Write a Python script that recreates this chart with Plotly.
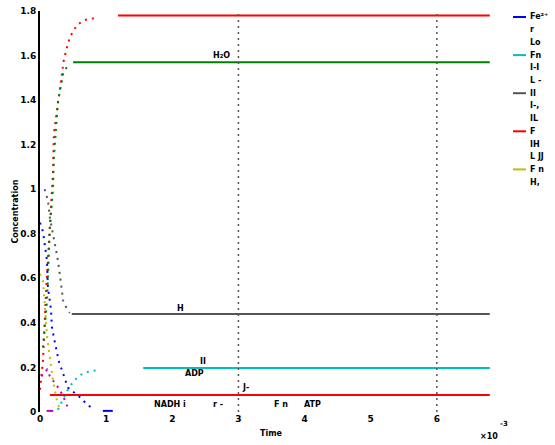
import plotly.graph_objects as go

# ---- data (time in units of 1e-3, concentration) ----
t_red_dot = [0, 0.045, 0.09, 0.136, 0.166, 0.196, 0.21, 0.257, 0.30, 0.33, 0.36, 0.41, 0.45, 0.50, 0.57, 0.68, 0.86]
c_red_dot = [0.10, 0.23, 0.53, 0.77, 0.91, 1.07, 1.25, 1.35, 1.46, 1.52, 1.58, 1.64, 1.68, 1.71, 1.74, 1.76, 1.77]
t_red_eq = [1.18, 6.8]
c_red_eq = [1.78, 1.78]

t_green_dot = [0.045, 0.106, 0.15, 0.196, 0.21, 0.24, 0.27, 0.32, 0.35, 0.41, 0.45]
c_green_dot = [0.29, 0.50, 0.83, 1.00, 1.14, 1.28, 1.39, 1.47, 1.52, 1.55, 1.565]
t_green_eq = [0.5, 6.8]
c_green_eq = [1.57, 1.57]

t_gray_dot = [0.07, 0.12, 0.15, 0.20, 0.26, 0.29, 0.32, 0.35, 0.41, 0.45]
c_gray_dot = [1.00, 0.95, 0.87, 0.80, 0.70, 0.64, 0.56, 0.50, 0.46, 0.445]
t_gray_eq = [0.48, 6.8]
c_gray_eq = [0.44, 0.44]

t_blue_dot = [0, 0.045, 0.106, 0.12, 0.166, 0.18, 0.227, 0.257, 0.29, 0.33, 0.38, 0.42, 0.60, 0.725, 0.80]
c_blue_dot = [0.85, 0.81, 0.68, 0.56, 0.46, 0.38, 0.31, 0.26, 0.22, 0.19, 0.14, 0.11, 0.067, 0.03, 0.017]
t_blue_eq = [0.95, 1.10]
c_blue_eq = [0.005, 0.005]

t_yellow_dot = [0, 0.045, 0.106, 0.15, 0.196, 0.257, 0.29]
c_yellow_dot = [0.62, 0.59, 0.34, 0.25, 0.14, 0.05, 0.02]

t_mag_dot = [0.02, 0.106, 0.15, 0.227, 0.30, 0.38, 0.42]
c_mag_dot = [0.16, 0.19, 0.16, 0.13, 0.10, 0.05, 0.02]
t_mag_eq = [0.10, 0.20]
c_mag_eq = [0.005, 0.005]

t_cyan_dot = [0.27, 0.35, 0.42, 0.50, 0.60, 0.72, 0.90]
c_cyan_dot = [0.01, 0.06, 0.10, 0.135, 0.165, 0.18, 0.19]
t_cyan_eq = [1.56, 6.8]
c_cyan_eq = [0.197, 0.197]

t_red2_eq = [0.15, 6.8]
c_red2_eq = [0.076, 0.076]

t_marks = [3, 6]

x_ticks = [0, 1, 2, 3, 4, 5, 6]
x_ticklabels = ["0", "1", "2", "3", "4", "5", "6"]
y_ticks = [0, 0.2, 0.4, 0.6, 0.8, 1, 1.2, 1.4, 1.6, 1.8]
y_ticklabels = ["0", "0.2", "0.4", "0.6", "0.8", "1", "1.2", "1.4", "1.6", "1.8"]

# text labels on the plot: (text, t, c)
labels_text = ["H₂O", "i", "H", "II", "ADP", "J-", "NADH i", "r -", "F n", "ATP"]
labels_t = [2.75, 3.47, 2.13, 2.46, 2.34, 3.11, 1.96, 2.69, 3.64, 4.12]
labels_c = [1.60, 1.805, 0.465, 0.225, 0.175, 0.108, 0.035, 0.033, 0.033, 0.033]

legend_colors = ["#0000ff", "#00bfbf", "#555555", "#ff0000", "#bfbf00"]
legend_lines = ["Fe²⁺", "r", "Lo", "Fn", "I-I", "L -", "II", "I-,", "IL",
                "F", "IH", "L JJ", "F n", "H,"]

fig = go.Figure()

dot = "2px,5px"
def add(t, c, color, dash=None, width=2):
    fig.add_trace(go.Scatter(x=t, y=c, mode="lines",
                             line=dict(color=color, width=width, dash=dash),
                             showlegend=False, hoverinfo="skip"))

add(t_red_dot, c_red_dot, "#ff0000", dot)
add(t_green_dot, c_green_dot, "#008000", dot)
add(t_gray_dot, c_gray_dot, "#555555", dot)
add(t_blue_dot, c_blue_dot, "#0000ff", dot)
add(t_yellow_dot, c_yellow_dot, "#bfbf00", dot)
add(t_mag_dot, c_mag_dot, "#bf00bf", dot)
add(t_cyan_dot, c_cyan_dot, "#00bfbf", dot)

add(t_red_eq, c_red_eq, "#ff0000")
add(t_green_eq, c_green_eq, "#008000")
add(t_gray_eq, c_gray_eq, "#555555")
add(t_blue_eq, c_blue_eq, "#0000ff")
add(t_mag_eq, c_mag_eq, "#bf00bf")
add(t_cyan_eq, c_cyan_eq, "#00bfbf")
add(t_red2_eq, c_red2_eq, "#ff0000")

for tm in t_marks:
    fig.add_trace(go.Scatter(x=[tm, tm], y=[0, 1.8], mode="lines",
                             line=dict(color="#555555", width=1.5, dash="2px,4px"),
                             showlegend=False, hoverinfo="skip"))

font_b = dict(family="DejaVu Sans", size=8, color="black", weight="bold")

for txt, tx, cy in zip(labels_text, labels_t, labels_c):
    fig.add_annotation(x=tx, y=cy, text=txt, showarrow=False, font=font_b,
                       xanchor="center", yanchor="middle")

# manual legend
L, R, T, B = 40, 503, 11, 412
def px(x):
    return (x - L) / (R - L)
def py(y):
    return (B - y) / (B - T)

for i, ln in enumerate(legend_lines):
    ypix = 17 + 12.7 * i
    fig.add_annotation(xref="paper", yref="paper", x=px(528), y=py(ypix),
                       text=ln, showarrow=False, font=font_b,
                       xanchor="left", yanchor="middle")
for k, col in enumerate(legend_colors):
    ypix = 17 + 12.7 * 3 * k
    fig.add_shape(type="line", xref="paper", yref="paper",
                  x0=px(513), x1=px(526), y0=py(ypix), y1=py(ypix),
                  line=dict(color=col, width=2))

# axis titles and exponent
fig.add_annotation(xref="paper", yref="paper", x=0.5, y=py(433), text="Time",
                   showarrow=False, font=font_b, xanchor="center", yanchor="middle")
fig.add_annotation(xref="paper", yref="paper", x=px(489), y=py(436), text="×10",
                   showarrow=False, font=font_b, xanchor="center", yanchor="middle")
fig.add_annotation(xref="paper", yref="paper", x=px(504), y=py(424), text="-3",
                   showarrow=False, font=dict(family="DejaVu Sans", size=7, color="black", weight="bold"),
                   xanchor="center", yanchor="middle")
fig.add_annotation(xref="paper", yref="paper", x=px(15), y=0.5, text="Concentration",
                   textangle=-90, showarrow=False, font=font_b,
                   xanchor="center", yanchor="middle")

tickfont = dict(family="DejaVu Sans", size=9, color="black", weight="bold")
fig.update_layout(
    width=555, height=445,
    margin=dict(l=L, r=555 - R, t=T, b=445 - B),
    paper_bgcolor="white", plot_bgcolor="white",
    showlegend=False,
    xaxis=dict(range=[0, 7], tickvals=x_ticks, ticktext=x_ticklabels,
               showgrid=False, zeroline=False, showline=False, automargin=False,
               ticks="", tickfont=tickfont),
    yaxis=dict(range=[0, 1.8], tickvals=y_ticks, ticktext=y_ticklabels,
               showgrid=False, zeroline=False, showline=True, linecolor="black",
               linewidth=2, ticks="", automargin=False, tickfont=tickfont),
)

fig.write_html("out.html", config={"displayModeBar": False})

# remove the default page margin so the figure fills the window exactly
with open("out.html", "r", encoding="utf-8") as f:
    html = f.read()
html = html.replace("<body>", '<body style="margin:0;overflow:hidden">', 1)
with open("out.html", "w", encoding="utf-8") as f:
    f.write(html)
